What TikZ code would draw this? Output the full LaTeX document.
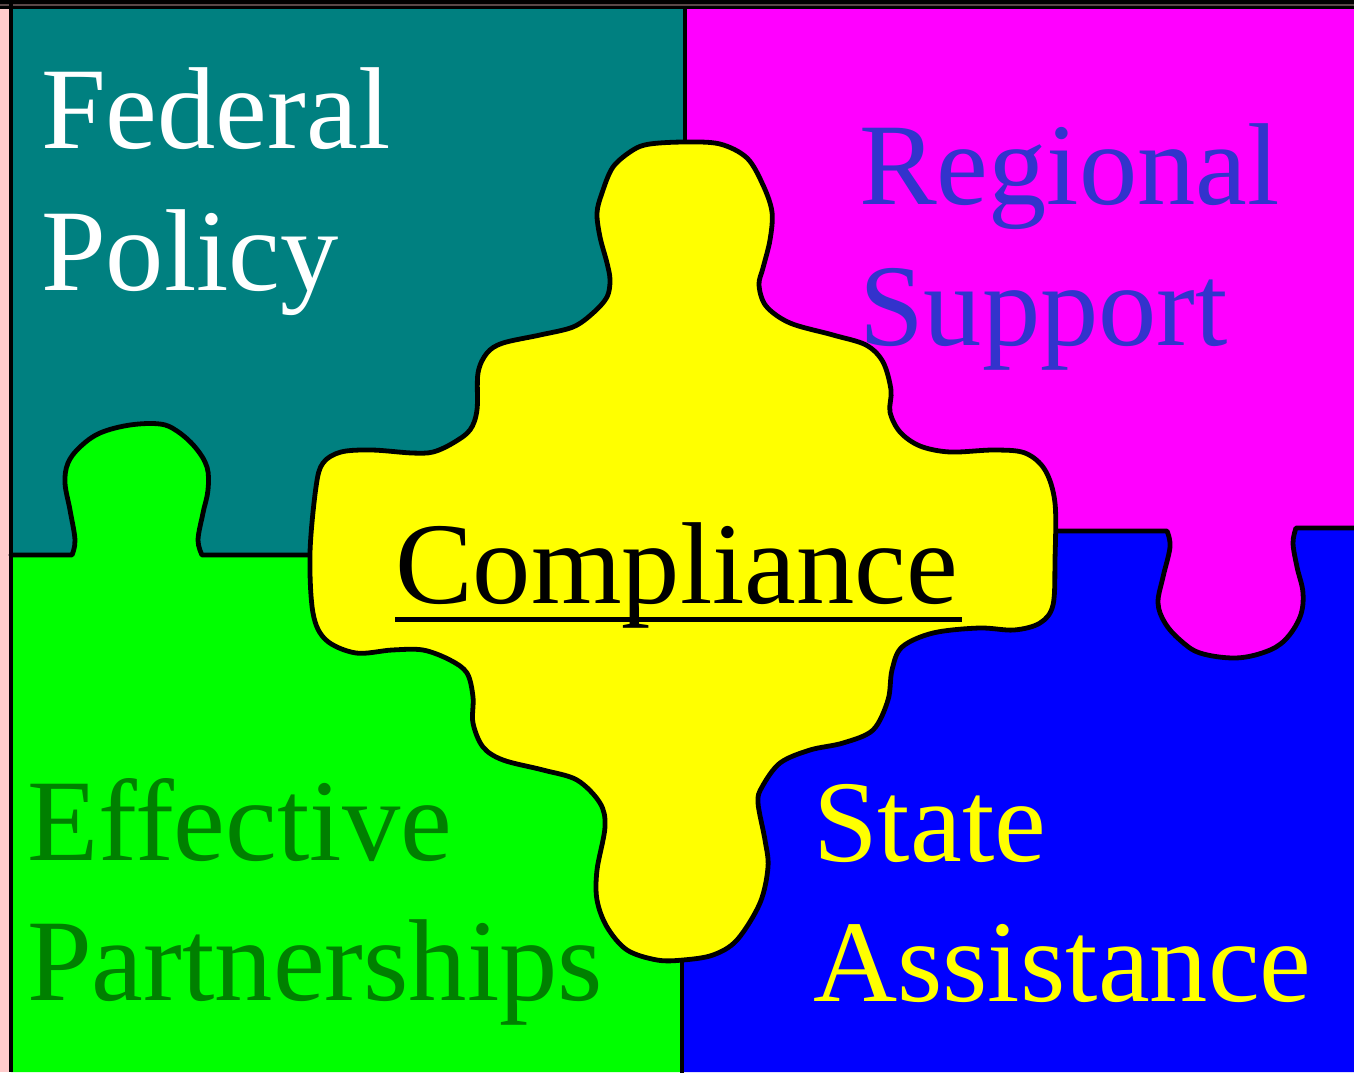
\documentclass[tikz,border=0pt]{standalone}
\usepackage{fontspec}
\setmainfont{Liberation Serif}
\usetikzlibrary{calc}
\definecolor{tealfill}{HTML}{008080}
\definecolor{magfill}{HTML}{FF00FF}
\definecolor{greenfill}{HTML}{00FF00}
\definecolor{bluefill}{HTML}{0000FF}
\definecolor{yellowfill}{HTML}{FFFF00}
\definecolor{pinkstrip}{HTML}{FFCCCC}
\definecolor{regionaltext}{HTML}{3333CC}
\definecolor{effectivetext}{HTML}{008000}
\definecolor{topline}{HTML}{5A4848}
\begin{document}
\begin{tikzpicture}[x=1pt,y=-1pt,
  edge/.style={draw=black,line width=4.8pt,line join=round,line cap=round},
  label/.style={inner sep=0pt,anchor=base west,
    font=\fontsize{116.5}{141}\selectfont}]
\useasboundingbox (0,0) rectangle (1354,1072);

% frame strips
\fill[pinkstrip] (0,0) rectangle (10,1072);
\fill[black] (0,0) rectangle (1354,9);
\fill[topline] (0,4) rectangle (1354,6);

% four quadrants (the magenta one runs under its tab)
\fill[tealfill] (11,9) rectangle (685,556);
\fill[magfill] (685,9) rectangle (1354,700);
\fill[greenfill] (11,1072) -- (11,555)
  -- plot[smooth,tension=0.6] coordinates {(72,555) (75,540) (70,510) (65,483) (68,463)
     (80,447) (100,433) (130,425) (160,424) (177,431) (195,447) (207,467) (208,490)
     (203,513) (198,540) (202,555)}
  -- (683,555) -- (683,1072) -- cycle;
\fill[bluefill] (683,1072) -- (683,531)
  -- plot[smooth,tension=0.6] coordinates {(1167,531) (1170,547) (1163,577) (1158,603)
     (1165,623) (1180,640) (1200,653) (1235,658) (1265,652) (1285,640) (1300,617)
     (1303,593) (1297,567) (1293,543) (1296,528)}
  -- (1354,528) -- (1354,1072) -- cycle;

% seams between the quadrants
\draw[edge] (11,555)
  -- plot[smooth,tension=0.6] coordinates {(72,555) (75,540) (70,510) (65,483) (68,463)
     (80,447) (100,433) (130,425) (160,424) (177,431) (195,447) (207,467) (208,490)
     (203,513) (198,540) (202,555)}
  -- (330,555);
\draw[edge] (1030,531)
  -- plot[smooth,tension=0.6] coordinates {(1167,531) (1170,547) (1163,577) (1158,603)
     (1165,623) (1180,640) (1200,653) (1235,658) (1265,652) (1285,640) (1300,617)
     (1303,593) (1297,567) (1293,543) (1296,528)}
  -- (1356,528);
\draw[edge] (685,9) -- (685,160);
\draw[edge] (682,940) -- (682,1074);
\draw[black,line width=4pt] (11,0) -- (11,1072);

% central piece
\filldraw[fill=yellowfill,edge] plot[smooth cycle,tension=0.55] coordinates {
  (650,144) (685,142) (720,144) (747,158) (763,185) (772,212) (770,240) (763,268)
  (759,285) (766,306) (790,323) (833,335) (866,345) (883,362) (891,390) (890,412)
  (900,432) (920,446) (950,452) (994,450) (1025,453) (1045,470) (1055,503) (1055,560)
  (1053,605) (1040,623) (1014,630) (979,628) (933,633) (902,647) (892,670) (888,700)
  (873,730) (843,743) (810,750) (780,763) (762,787) (758,803) (765,840) (768,867)
  (760,903) (737,940) (713,955) (683,960) (657,960) (627,950) (607,927) (597,900)
  (597,870) (605,827) (600,803) (577,780) (543,770) (503,760) (483,747) (473,723)
  (473,697) (467,673) (450,660) (423,650) (392,650) (356,653) (326,640) (313,613)
  (310,553) (316,487) (323,463) (341,452) (372,450) (412,453) (433,452) (453,443)
  (470,430) (477,410) (478,373) (487,353) (503,343) (540,335) (573,327) (593,313)
  (607,297) (610,280) (607,263) (600,237) (597,213) (602,193) (613,167) (633,150)};

% labels, one node per line
\node[label,text=white] (federal) at (41,148) {Federal};
\node[label,text=white] (policy) at (41,290) {Policy};
\node[label,text=regionaltext] (regional) at (859,204) {Regional};
\node[label,text=regionaltext] (support) at (859,345) {Support};
\node[label,text=effectivetext] (effective) at (27,860) {Effective};
\node[label,text=effectivetext] (partnerships) at (27,1000) {Partnerships};
\node[label,text=yellowfill] (state) at (813,861) {State};
\node[label,text=yellowfill] (assistance) at (813,1001) {Assistance};
\node[label,text=black] (compliance) at (395,603) {Compliance};
\draw[black,line width=5pt] ($(compliance.base west)+(0,16.5)$)
  -- ($(compliance.base east)+(4,16.5)$);
\end{tikzpicture}
\end{document}
